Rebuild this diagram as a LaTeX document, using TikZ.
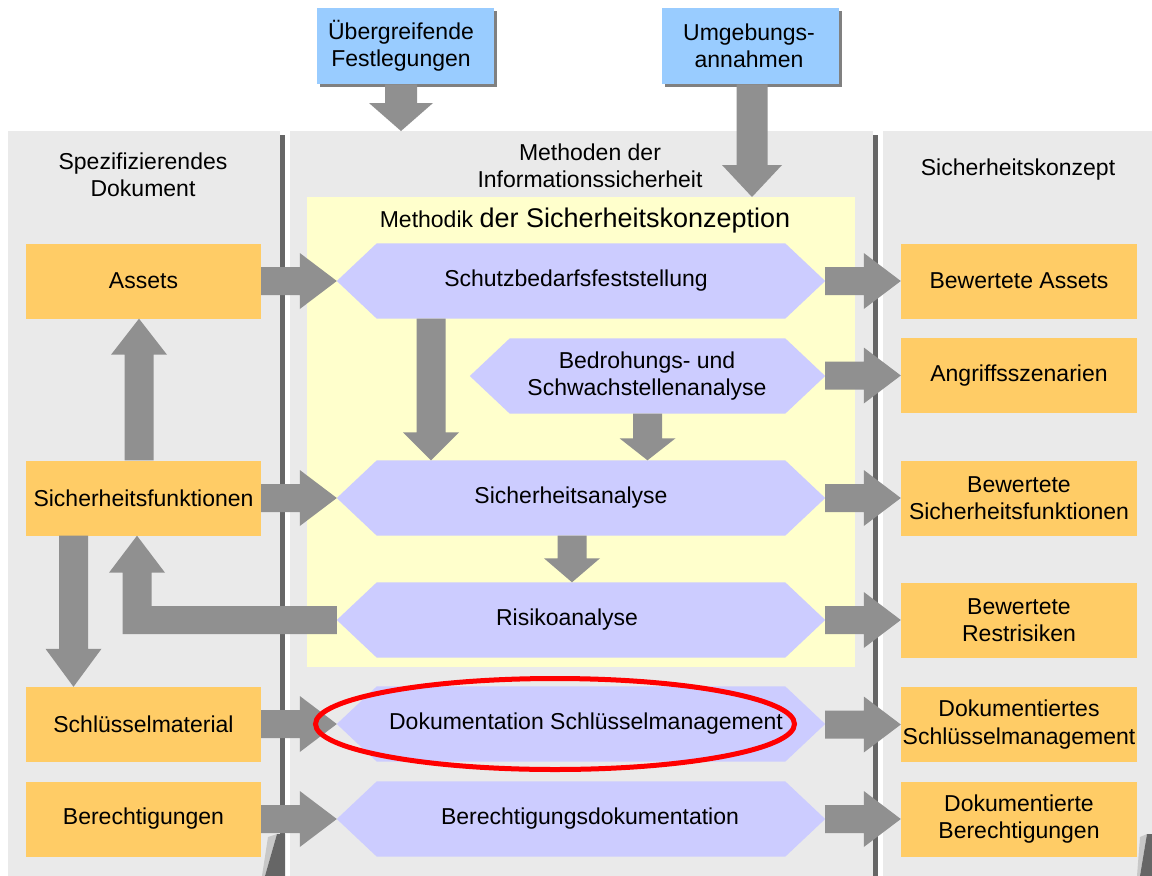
\documentclass[tikz,border=0pt]{standalone}
\usepackage{fontspec}
\setmainfont{Liberation Sans}
\usetikzlibrary{calc,shapes.geometric}
\definecolor{panelgray}{HTML}{EAEAEA}
\definecolor{shadowgray}{HTML}{666666}
\definecolor{curllight}{HTML}{C8C8C8}
\definecolor{arrowgray}{HTML}{909090}
\definecolor{boxorange}{HTML}{FFCC66}
\definecolor{methyellow}{HTML}{FFFFCC}
\definecolor{hexlav}{HTML}{CCCCFF}
\definecolor{topblue}{HTML}{99CCFF}
\definecolor{topshadow}{HTML}{808080}
\tikzset{
  lbl/.style={font=\fontsize{23pt}{27.5pt}\selectfont, align=center, inner sep=0pt},
  panel/.style={fill=panelgray, draw=none, inner sep=0pt, anchor=north west},
  obox/.style={fill=boxorange, draw=none, inner sep=0pt, minimum width=235pt, minimum height=75pt, lbl},
  bbox/.style={fill=topblue, draw=none, inner sep=0pt, minimum width=177pt, minimum height=76pt, lbl},
  hexframe/.style={draw=none, inner sep=0pt, minimum height=75pt, rectangle},
  hexfill/.style={fill=hexlav},
  arrowfill/.style={fill=arrowgray},
}
% horizontal block arrow, pointing right, tip at #2
\newcommand{\harr}[2]{\fill[arrowfill] let \p1=(#1), \p2=(#2) in
  (\x1,\y2+14pt) -- (\x2-37pt,\y2+14pt) -- (\x2-37pt,\y2+28pt) -- (\x2,\y2) --
  (\x2-37pt,\y2-28pt) -- (\x2-37pt,\y2-14pt) -- (\x1,\y2-14pt) -- cycle;}
% vertical block arrow pointing down: from #1 to tip #2, head length #3, shaft half #4, head half #5
\newcommand{\darrw}[5]{\fill[arrowfill] let \p1=(#1), \p2=(#2) in
  (\x2-#4,\y1) -- (\x2-#4,\y2+#3) -- (\x2-#5,\y2+#3) -- (\x2,\y2) --
  (\x2+#5,\y2+#3) -- (\x2+#4,\y2+#3) -- (\x2+#4,\y1) -- cycle;}
\newcommand{\darr}[3]{\darrw{#1}{#2}{#3}{14.5pt}{28pt}}
% vertical block arrow pointing up, tip at #2, head length #3
\newcommand{\uarr}[3]{\fill[arrowfill] let \p1=(#1), \p2=(#2) in
  (\x2-14.5pt,\y1) -- (\x2-14.5pt,\y2-#3) -- (\x2-28pt,\y2-#3) -- (\x2,\y2) --
  (\x2+28pt,\y2-#3) -- (\x2+14.5pt,\y2-#3) -- (\x2+14.5pt,\y1) -- cycle;}
% hexagon: name, left tip x, right tip x, centre y, text x, text
\newcommand{\hexagon}[6]{%
  \node[hexframe, minimum width={(#3)-(#2)}] (#1) at ({((#2)+(#3))/2},#4) {};
  \fill[hexfill] (#1.west) -- ($(#1.north west)+(40,0)$) -- ($(#1.north east)+(-40,0)$) --
    (#1.east) -- ($(#1.south east)+(-40,0)$) -- ($(#1.south west)+(40,0)$) -- cycle;
  \node[lbl] (#1-t) at (#5,#4) {#6};}
\begin{document}
\begin{tikzpicture}[x=1pt,y=-1pt]
\useasboundingbox (0,0) rectangle (1152,876);
\fill[white] (0,0) rectangle (1152,876);
% panels
\node[panel, minimum width=272pt, minimum height=745pt] (lp) at (8,131) {};
\node[panel, minimum width=583pt, minimum height=745pt] (mp) at (290,131) {};
\node[panel, minimum width=269pt, minimum height=745pt] (rp) at (883,131) {};
\fill[shadowgray] ($(lp.north east)+(0,4)$) rectangle ($(lp.south east)+(4.5,0)$);
\fill[shadowgray] ($(mp.north east)+(0,4)$) rectangle ($(mp.south east)+(4.5,0)$);
% page curls
\fill[curllight] (268,837) -- (277,834) -- (265,876) -- (262,876) -- cycle;
\fill[shadowgray] (277,834) -- (285,834) -- (285,876) -- (265,876) -- cycle;
\fill[curllight] (1140,837) -- (1147,834) -- (1140,876) -- (1137,876) -- cycle;
\fill[shadowgray] (1147,834) -- (1152,834) -- (1152,876) -- (1140,876) -- cycle;
% panel titles
\node[lbl] (lpt) at (143,175) {Spezifizierendes\\Dokument};
\node[lbl] (mpt) at (590,166) {Methoden der\\Informationssicherheit};
\node[lbl] (rpt) at (1018,170) {Sicherheitskonzept};
% methodology area
\node[fill=methyellow, inner sep=0pt, anchor=north west, minimum width=548pt, minimum height=470pt] (meth) at (307,197) {};
\node[inner sep=0pt] (metht) at (585,221) {\fontsize{23pt}{27pt}\selectfont Methodik {\fontsize{27pt}{30pt}\selectfont der Sicherheitskonzeption}};
% top boxes
\fill[topshadow] (320,11) rectangle (497,87);
\node[bbox, anchor=north west] (ub) at (317,8) {};
\node[lbl] (ubt) at (401,46) {Übergreifende\\Festlegungen};
\fill[topshadow] (665,11) rectangle (842,87);
\node[bbox, anchor=north west] (ug) at (662,8) {};
\node[lbl] (ugt) at (749,46) {Umgebungs-\\annahmen};
\coordinate (ubtip) at (401,131);
\coordinate (ugtip) at (752,197);
\darrw{ub.south}{ubtip}{28pt}{16pt}{32pt}
\darrw{ug.south}{ugtip}{32pt}{15.5pt}{30pt}
% left boxes
\node[obox] (assets) at (143.5,281) {Assets};
\node[obox] (sf) at (143.5,498) {Sicherheitsfunktionen};
\node[obox] (sm) at (143.5,724.5) {Schlüsselmaterial};
\node[obox] (ber) at (143.5,819) {Berechtigungen};
% right boxes
\node[obox, minimum width=236pt] (ba) at (1019,281) {Bewertete Assets};
\node[obox, minimum width=236pt] (as) at (1019,375.5) {Angriffsszenarien};
\node[obox, minimum width=236pt] (bsf) at (1019,498) {Bewertete\\Sicherheitsfunktionen};
\node[obox, minimum width=236pt] (br) at (1019,620) {Bewertete\\Restrisiken};
\node[obox, minimum width=236pt] (dsm) at (1019,724.5) {Dokumentiertes\\Schlüsselmanagement};
\node[obox, minimum width=236pt] (db) at (1019,819) {Dokumentierte\\Berechtigungen};
% hexagons
\hexagon{schutz}{337}{825}{281}{576}{Schutzbedarfsfeststellung}
\hexagon{bed}{470}{825}{376}{647}{Bedrohungs- und\\Schwachstellenanalyse}
\hexagon{sa}{337}{825}{498}{571}{Sicherheitsanalyse}
\hexagon{ra}{337}{825}{620}{567}{Risikoanalyse}
\hexagon{dsmh}{337}{825}{724}{586}{Dokumentation Schlüsselmanagement}
\hexagon{bdh}{337}{825}{819}{590}{Berechtigungsdokumentation}
% horizontal arrows
\harr{assets.east}{schutz.west}
\harr{sf.east}{sa.west}
\harr{sm.east}{dsmh.west}
\harr{ber.east}{bdh.west}
\harr{schutz.east}{ba.west}
\harr{bed.east}{as.west}
\harr{sa.east}{bsf.west}
\harr{ra.east}{br.west}
\harr{dsmh.east}{dsm.west}
\harr{bdh.east}{db.west}
% vertical arrows
\darr{$(schutz.south)+(-150,0)$}{$(sa.north)+(-150,0)$}{28pt}
\darr{bed.south}{bed.south |- sa.north}{22pt}
\darr{$(sa.south)+(-9,0)$}{$(ra.north)+(-9,0)$}{24pt}
\uarr{$(sf.north)+(-4.5,0)$}{$(assets.south)+(-4.5,0)$}{36pt}
\darr{$(sf.south)+(-70,0)$}{$(sm.north)+(-70,0)$}{38pt}
% elbow arrow from Risikoanalyse back to Sicherheitsfunktionen
\fill[arrowfill] let \p1=(ra.west), \p2=($(sf.south)+(-6.5,0)$) in
  (\x1,\y1+14pt) -- (\x2+14.5pt,\y1+14pt) -- (\x2+14.5pt,\y2-37pt) -- (\x2+28pt,\y2-37pt) --
  (\x2,\y2) -- (\x2-28pt,\y2-37pt) -- (\x2-14.5pt,\y2-37pt) -- (\x2-14.5pt,\y1-14pt) --
  (\x1,\y1-14pt) -- cycle;
% highlight
\node[draw=red, line width=5pt, ellipse, inner sep=0pt, minimum width=479pt, minimum height=91pt] (ell) at (555,724) {};
\end{tikzpicture}
\end{document}
